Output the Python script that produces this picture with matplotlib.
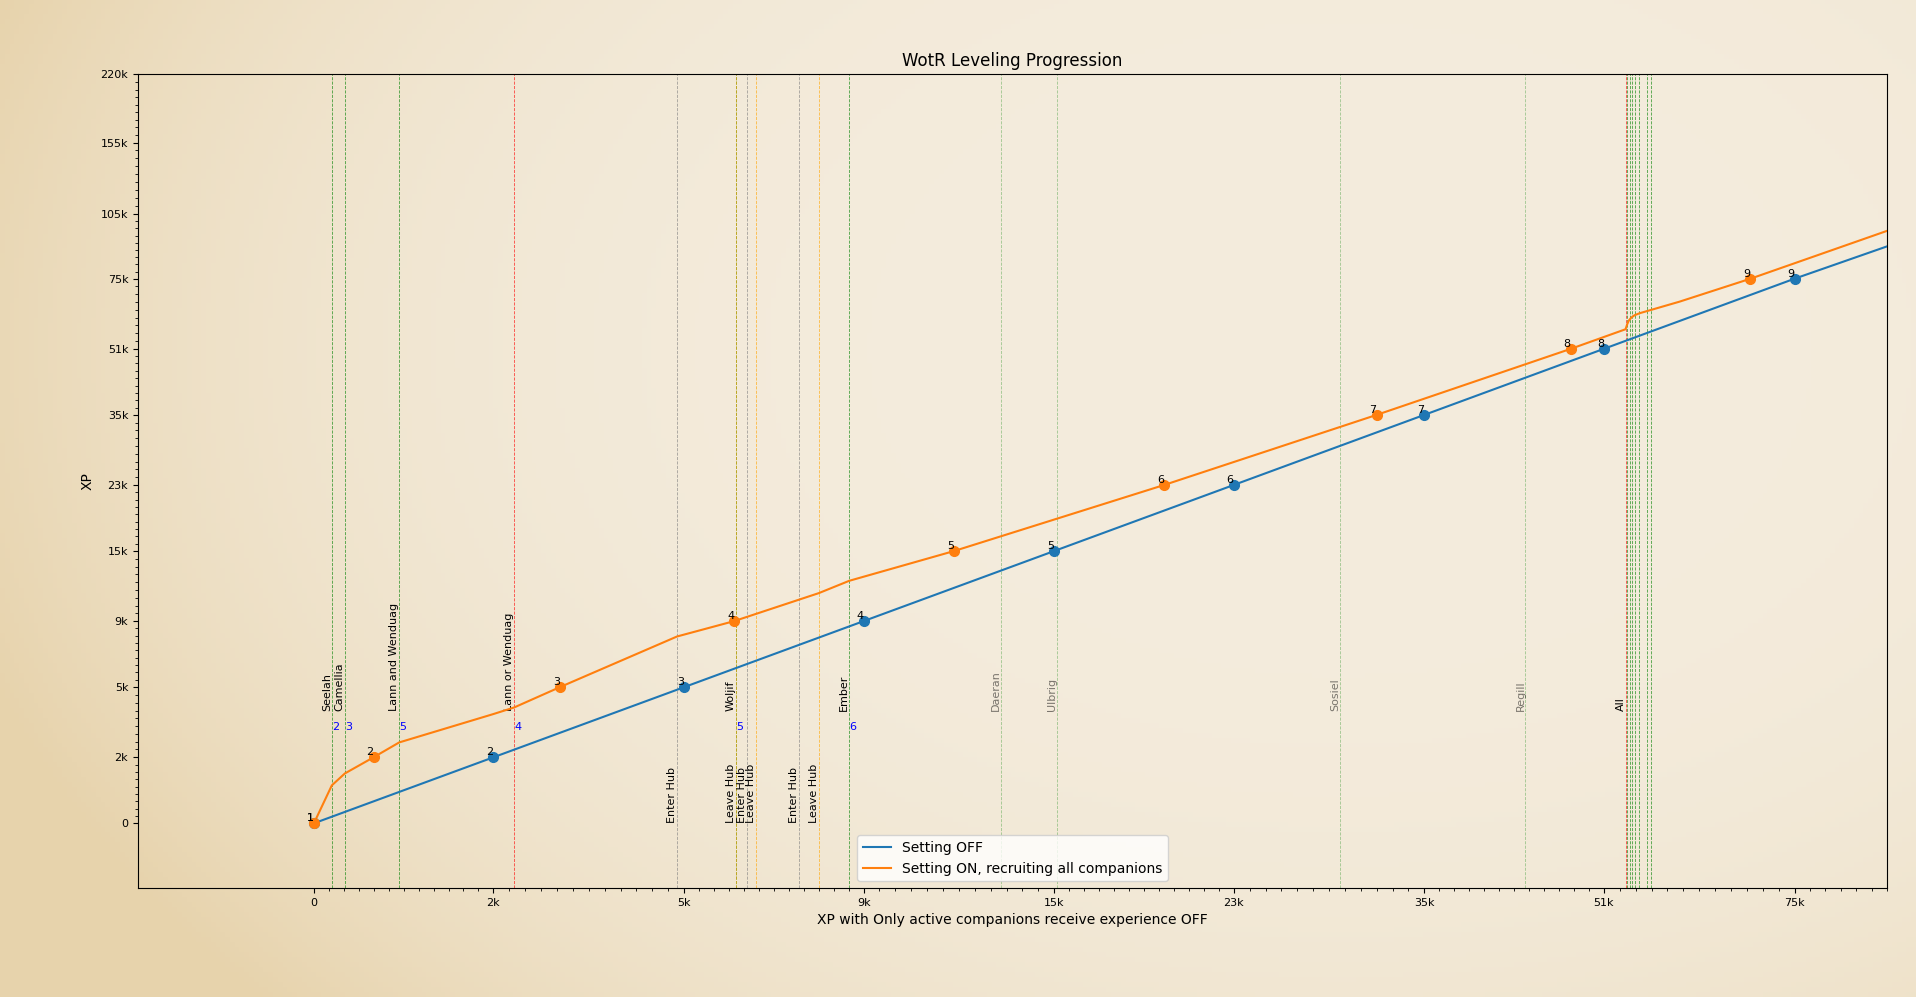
import numpy as np
import matplotlib
matplotlib.use("Agg")
import matplotlib.pyplot as plt
from matplotlib.ticker import FixedLocator

# XP needed for each level
thresholds = [0, 2000, 5000, 9000, 15000, 23000, 35000, 51000, 75000, 105000, 155000, 220000]
tick_labels = ['0', '2k', '5k', '9k', '15k', '23k', '35k', '51k', '75k', '105k', '155k', '220k']
level_names = ['1', '2', '3', '4', '5', '6', '7', '8', '9']

# Setting OFF: xp on both axes is the same
off_x = [0, 2000, 5000, 9000, 15000, 23000, 35000, 51000, 75000, 90000]
off_y = [0, 2000, 5000, 9000, 15000, 23000, 35000, 51000, 75000, 90000]
off_lvl_x = [0, 2000, 5000, 9000, 15000, 23000, 35000, 51000, 75000]

# Setting ON, recruiting all companions
on_x = [0, 200, 345, 665, 950, 2000, 2325, 3045, 4890, 6115, 8005, 8680,
        11850, 19900, 32000, 48050, 53725, 53935, 54145, 54450, 54870, 55500,
        60530, 69450, 90000]
on_y = [0, 1150, 1510, 2000, 2635, 3850, 4130, 5000, 8070, 9000, 11400, 12450,
        15000, 23000, 35000, 51000, 57700, 59435, 60695, 61695, 62510, 63185,
        67150, 75000, 97200]
on_lvl_x = [0, 665, 3045, 6115, 11850, 19900, 32000, 48050, 69450]

# events (xp with setting OFF)
joined = ['Seelah', 'Camellia', 'Lann and Wenduag', 'Woljif', 'Ember']
joined_xp = [200, 345, 950, 6160, 8680]
joined_party = [2, 3, 5, 5, 6]
lost = ['Lann or Wenduag', 'All']
lost_xp = [2325, 53725]
lost_party = [4, None]
skipped = ['Daeran', 'Ulbrig', 'Sosiel', 'Regill']
skipped_xp = [13330, 15125, 29690, 44005]
rejoin_xp = [53960, 54235, 54520, 54975, 55390, 56405, 56880]
hub_enter = [4890, 6405, 7560]
hub_leave = [6160, 6605, 8005]

# where the thresholds sit along each axis
x_pos = [0, 0.97, 2.0, 2.97, 4.0, 4.97, 6.0, 6.97, 8.0, 9.0, 10.0, 11.0]
y_pos = [0, 0.97, 2.0, 2.97, 4.0, 4.97, 6.0, 6.97, 8.0, 8.95, 10.0, 11.0]


def make_scale(pos):
    t = np.array(thresholds, float)
    p = np.array(pos, float)

    def fwd(v):
        v = np.asarray(v, float)
        out = np.interp(v, t, p)
        out = np.where(v < t[0], p[0] + (v - t[0]) * (p[1] - p[0]) / (t[1] - t[0]), out)
        out = np.where(v > t[-1], p[-1] + (v - t[-1]) * (p[-1] - p[-2]) / (t[-1] - t[-2]), out)
        return out

    def inv(u):
        u = np.asarray(u, float)
        out = np.interp(u, p, t)
        out = np.where(u < p[0], t[0] + (u - p[0]) * (t[1] - t[0]) / (p[1] - p[0]), out)
        out = np.where(u > p[-1], t[-1] + (u - p[-1]) * (t[-1] - t[-2]) / (p[-1] - p[-2]), out)
        return out
    return fwd, inv


def minor_ticks(pos, n, inv):
    locs = []
    for a, b in zip(pos[:-1], pos[1:]):
        locs += list(np.linspace(a, b, n + 1)[1:-1])
    return inv(np.array(locs))


fig = plt.figure(figsize=(19.16, 9.97), dpi=100)
fig.patch.set_facecolor('#f3ebdc')

# parchment-ish backdrop, tan towards the lower left
bg = fig.add_axes([0, 0, 1, 1], zorder=-10)
gy, gx = np.mgrid[0:1:200j, 0:1:400j]
d = np.sqrt(((gx - 0.7) / 0.75) ** 2 + ((gy - 0.35) / 1.0) ** 2)
w = np.clip(d, 0, 1) ** 3.5
center = np.array([244, 236, 221]) / 255
edge = np.array([231, 211, 172]) / 255
img = center * (1 - w[..., None]) + edge * w[..., None]
bg.imshow(img, aspect='auto', extent=[0, 1, 0, 1], origin='upper')
bg.axis('off')

ax = fig.add_axes([0.0720, 0.1093, 0.9129, 0.8160])
ax.set_facecolor('none')

fx, ix = make_scale(x_pos)
fy, iy = make_scale(y_pos)
ax.set_xscale('function', functions=(fx, ix))
ax.set_yscale('function', functions=(fy, iy))

ls = dict(linestyle='--', linewidth=0.6, zorder=1)
for name, xp, n in zip(joined, joined_xp, joined_party):
    ax.axvline(xp, color='green', alpha=0.7, **ls)
    ax.text(xp, 4000, name, rotation=90, ha='right', va='bottom', fontsize=8)
    ax.text(xp, 3100, str(n), color='blue', ha='left', va='bottom', fontsize=8)
for xp in rejoin_xp:
    ax.axvline(xp, color='green', alpha=0.7, **ls)
for name, xp, n in zip(lost, lost_xp, lost_party):
    ax.axvline(xp, color='red', alpha=0.7, **ls)
    ax.text(xp, 4000, name, rotation=90, ha='right', va='bottom', fontsize=8)
    if n is not None:
        ax.text(xp, 3100, str(n), color='blue', ha='left', va='bottom', fontsize=8)
for name, xp in zip(skipped, skipped_xp):
    ax.axvline(xp, color='green', alpha=0.35, **ls)
    ax.text(xp, 4000, name, rotation=90, ha='right', va='bottom', fontsize=8, alpha=0.5)
for xp in hub_enter:
    ax.axvline(xp, color='gray', alpha=0.7, **ls)
    ax.text(xp, 0, 'Enter Hub', rotation=90, ha='right', va='bottom', fontsize=8)
for xp in hub_leave:
    ax.axvline(xp, color='orange', alpha=0.7, **ls)
    ax.text(xp, 0, 'Leave Hub', rotation=90, ha='right', va='bottom', fontsize=8)

ax.plot(off_x, off_y, color='#1f77b4', label='Setting OFF', zorder=3)
ax.plot(on_x, on_y, color='#ff7f0e', label='Setting ON, recruiting all companions', zorder=3)
ax.plot(off_lvl_x, thresholds[:9], 'o', ms=7, color='#1f77b4', zorder=4)
ax.plot(on_lvl_x, thresholds[:9], 'o', ms=7, color='#ff7f0e', zorder=4)
for lx, ly, s in zip(off_lvl_x, thresholds[:9], level_names):
    ax.text(lx, ly, s, ha='right', va='bottom', fontsize=8, zorder=5)
for lx, ly, s in zip(on_lvl_x, thresholds[:9], level_names):
    ax.text(lx, ly, s, ha='right', va='bottom', fontsize=8, zorder=5)

ax.set_xticks(thresholds, tick_labels, fontsize=8)
ax.set_yticks(thresholds, tick_labels, fontsize=8)
ax.xaxis.set_minor_locator(FixedLocator(minor_ticks(x_pos, 12, ix)))
ax.yaxis.set_minor_locator(FixedLocator(minor_ticks(y_pos, 9, iy)))
ax.set_xlim(-1960, 90000)
ax.set_ylim(-1960, 220000)

ax.set_title('WotR Leveling Progression')
ax.set_xlabel('XP with Only active companions receive experience OFF')
ax.set_ylabel('XP')
ax.legend(loc='lower center')

fig.savefig('out.png', dpi=100, facecolor=fig.get_facecolor())
